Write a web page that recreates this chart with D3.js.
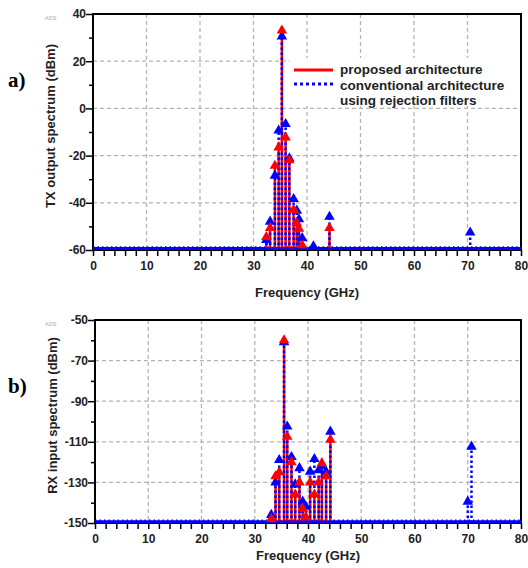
<!DOCTYPE html>
<html><head><meta charset="utf-8">
<script src="https://cdn.jsdelivr.net/npm/d3@7"></script>
<style>
body{margin:0;background:#fff;}
</style></head>
<body><svg id="c" width="528" height="568" font-family="'Liberation Sans',Arial,sans-serif"></svg>
<script>
// ---- data ----
const txFreq         = [32.4, 33.1, 34.0, 34.7, 35.3, 36.0, 36.7, 37.5, 38.1, 38.5, 39.1, 41.2, 44.2, 70.5];
const txProposed     = [-54.5, -50.7, -24.3, -16.5, 33, -12.3, -22, -43, -48.7, -51, -58, -60, -50.7, -60];
const txConventional = [-55.7, -48, -28.5, -9.4, 30.5, -6.6, -21.2, -38.4, -43.3, -47, -55, -58.4, -45.9, -52.6];

const rxFreq         = [33.1, 33.9, 34.6, 35.5, 36.1, 36.9, 37.6, 38.4, 39.0, 39.6, 40.4, 41.2, 42.0, 42.6, 43.4, 44.2, 70.0, 70.7];
const rxProposed     = [-148, -127, -125, -60, -107.5, -120, -136, -130, -143, -147, -130, -136, -130, -120.5, -127, -109, -150, -150];
const rxConventional = [-146, -130, -119, -61, -102.5, -117.5, -131, -123, -139.5, -142, -124.7, -118.5, -124, -122, -124.7, -105, -139.5, -112.4];

const xTicks = [0, 10, 20, 30, 40, 50, 60, 70, 80];
const txYTicks = [40, 20, 0, -20, -40, -60];
const rxYTicks = [-50, -70, -90, -110, -130, -150];
const legendLabels = ["proposed architecture", "conventional architecture", "using rejection filters"];

const svg = d3.select("#c");
const RED = "#ff0000", BLUE = "#0000ff";

function panel(cfg){
  const {left,right,top,bottom,yDom,yTicks,freq,prop,conv,yLabel,tag,floor,xLabOff} = cfg;
  const x = d3.scaleLinear().domain([0,80]).range([left,right]);
  const y = d3.scaleLinear().domain(yDom).range([bottom,top]);
  const g = svg.append("g");
  // grid
  g.selectAll(".gx").data(xTicks.slice(1,-1)).join("line")
    .attr("x1",d=>x(d)).attr("x2",d=>x(d)).attr("y1",top).attr("y2",bottom)
    .attr("stroke","#b4b4b4").attr("stroke-width",1.3).attr("stroke-dasharray","4,3");
  g.selectAll(".gy").data(yTicks.slice(1,-1)).join("line")
    .attr("y1",d=>y(d)).attr("y2",d=>y(d)).attr("x1",left).attr("x2",right)
    .attr("stroke","#b4b4b4").attr("stroke-width",1.3).attr("stroke-dasharray","4,3");
  // axes
  const xAxis = d3.axisBottom(x).tickValues(d3.range(0,81,2)).tickSize(6)
    .tickFormat(d=> d%10===0 ? d : "");
  const ax = g.append("g").attr("transform",`translate(0,${bottom})`).call(xAxis);
  ax.select(".domain").remove();
  ax.selectAll("line").attr("stroke","#000").attr("stroke-width",1.5);
  ax.selectAll("text").attr("font-size",12).attr("font-weight","bold").attr("fill","#222")
    .attr("font-family","'Liberation Sans',Arial,sans-serif").attr("dy","0.95em");
  const minor = d3.range(yDom[0], yDom[1]+1, 10);
  const yAxis = d3.axisLeft(y).tickValues(minor).tickSize(0)
    .tickFormat(d=> yTicks.includes(d) ? d : "");
  const ay = g.append("g").attr("transform",`translate(${left},0)`).call(yAxis);
  ay.select(".domain").remove();
  ay.selectAll(".tick line").attr("x2",d=> yTicks.includes(d) ? -7 : -4).attr("stroke","#000").attr("stroke-width",1.5);
  ay.selectAll("text").attr("x",-7).attr("font-size",12).attr("font-weight","bold").attr("fill","#222")
    .attr("font-family","'Liberation Sans',Arial,sans-serif");
  // frame
  g.append("rect").attr("x",left).attr("y",top).attr("width",right-left).attr("height",bottom-top)
    .attr("fill","none").attr("stroke","#000").attr("stroke-width",2);
  // noise floor
  g.append("line").attr("x1",x(0)).attr("x2",x(80)).attr("y1",y(floor)).attr("y2",y(floor))
    .attr("stroke",BLUE).attr("stroke-width",3);
  g.append("line").attr("x1",x(0)).attr("x2",x(80)).attr("y1",y(floor)-1.5).attr("y2",y(floor)-1.5)
    .attr("stroke",BLUE).attr("stroke-width",1.5).attr("stroke-dasharray","1.5,3");
  // stems
  const base = yDom[0];
  g.selectAll(".sr").data(freq).join("line")
    .attr("x1",d=>x(d)).attr("x2",d=>x(d)).attr("y1",y(base)).attr("y2",(d,i)=>y(prop[i]))
    .attr("stroke",RED).attr("stroke-width",2.5);
  g.selectAll(".sb").data(freq).join("line")
    .attr("x1",d=>x(d)).attr("x2",d=>x(d)).attr("y1",y(base)).attr("y2",(d,i)=>y(conv[i]))
    .attr("stroke",BLUE).attr("stroke-width",2.5).attr("stroke-dasharray","2.5,2.5");
  const tri = d3.symbol().type(d3.symbolTriangle).size(48);
  const idxC = d3.range(freq.length).filter(i=>conv[i] > base);
  const idxP = d3.range(freq.length).filter(i=>prop[i] > base);
  g.selectAll(".mb").data(idxC).join("path").attr("d",tri)
    .attr("transform",i=>`translate(${x(freq[i])},${y(conv[i])})`).attr("fill",BLUE);
  g.selectAll(".mr").data(idxP).join("path").attr("d",tri)
    .attr("transform",i=>`translate(${x(freq[i])},${y(prop[i])})`).attr("fill",RED);
  // labels
  svg.append("text").attr("x",(left+right)/2).attr("y",bottom+xLabOff).attr("text-anchor","middle")
    .attr("font-size",13).attr("font-weight","bold").attr("fill","#222").text("Frequency (GHz)");
  svg.append("text").attr("transform",`translate(${left-38},${(top+bottom)/2 - 6}) rotate(-90)`)
    .attr("text-anchor","middle").attr("font-size",13).attr("font-weight","bold").attr("fill","#222").text(yLabel);
  svg.append("text").attr("x",45).attr("y",top+6).attr("font-size",5.5).attr("fill","#aaa").text("ADS");
  svg.append("text").attr("x",8).attr("y",top+73)
    .style("font-family","'Liberation Serif','Times New Roman',serif")
    .attr("font-size",21).attr("font-weight","bold").attr("fill","#000").text(tag);
  return {x,y};
}

panel({left:93,right:521,top:14,bottom:250,yDom:[-60,40],yTicks:txYTicks,xLabOff:47,
  freq:txFreq,prop:txProposed,conv:txConventional,yLabel:"TX output spectrum (dBm)",tag:"a)",floor:-59.4});
panel({left:95,right:521,top:320,bottom:523,yDom:[-150,-50],yTicks:rxYTicks,xLabOff:37,
  freq:rxFreq,prop:rxProposed,conv:rxConventional,yLabel:"RX input spectrum (dBm)",tag:"b)",floor:-149.4});

// legend
const lg = svg.append("g");
lg.append("rect").attr("x",290).attr("y",58).attr("width",229).attr("height",48).attr("fill","#fff");
lg.append("line").attr("x1",294).attr("x2",333).attr("y1",70).attr("y2",70).attr("stroke",RED).attr("stroke-width",3);
lg.append("line").attr("x1",294).attr("x2",333).attr("y1",84).attr("y2",84).attr("stroke",BLUE).attr("stroke-width",3).attr("stroke-dasharray","3,3");
lg.selectAll("text").data(legendLabels).join("text")
  .attr("x",340).attr("y",(d,i)=>74+i*15.5).attr("font-size",13.5).attr("font-weight","bold").attr("fill","#222").text(d=>d);
</script></body></html>
